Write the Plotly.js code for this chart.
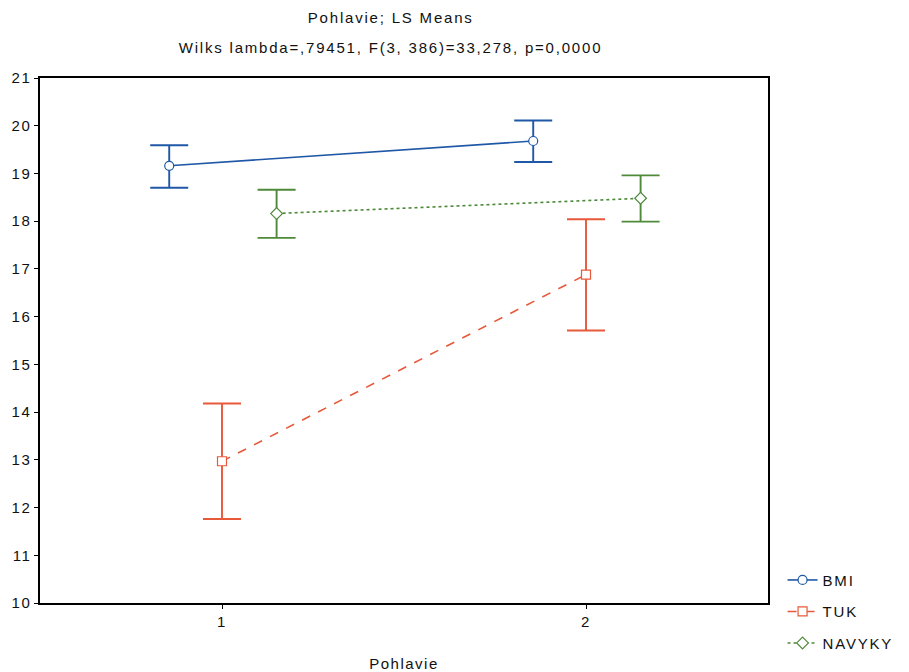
<!DOCTYPE html>
<html><head><meta charset="utf-8">
<script src="https://cdn.plot.ly/plotly-3.0.1.min.js"></script>
<style>body{margin:0;background:#fff}#chart{width:909px;height:672px}
#chart svg text{letter-spacing:1.5px}
#chart svg .annotation-text{letter-spacing:1.8px}
#chart svg .legendtext{letter-spacing:1.8px}
#chart svg .legend .scrollbox, #chart svg .legend{clip-path:none !important}</style>
</head><body><div id="chart"></div>
<script>
const categories = [1, 2];
const seriesNames = ["BMI", "TUK", "NAVYKY"];
const bmiMean = [19.16, 19.68];
const bmiUpper = [19.59, 20.11];
const bmiLower = [18.70, 19.24];
const tukMean = [12.97, 16.88];
const tukUpper = [14.18, 18.04];
const tukLower = [11.76, 15.71];
const navykyMean = [18.16, 18.48];
const navykyUpper = [18.66, 18.96];
const navykyLower = [17.65, 17.99];
const yTicks = [10,11,12,13,14,15,16,17,18,19,20,21];
const titleLine1 = "Pohlavie; LS Means";
const titleLine2 = "Wilks lambda=,79451, F(3, 386)=33,278, p=0,0000";

const styles = [
  {color:"#1f58a6", dash:"solid", symbol:"circle", off:-0.145},
  {color:"#e8583a", dash:"dash", symbol:"square", off:0},
  {color:"#4e8a3a", dash:"dot", symbol:"diamond", off:0.15}
];
const means = [bmiMean, tukMean, navykyMean];
const ups = [bmiUpper, tukUpper, navykyUpper];
const los = [bmiLower, tukLower, navykyLower];

const traces = seriesNames.map((n,i)=>({
  type:"scatter", mode:"lines+markers", name:n, legendgroup:n,
  x: categories.map(c=>c+styles[i].off),
  y: means[i],
  line:{color:styles[i].color, width:1.6, dash:styles[i].dash},
  marker:{symbol:styles[i].symbol, size:9, color:"#fff", line:{width:1.2,color:styles[i].color}},
  error_y:{type:"data", symmetric:false,
    array: ups[i].map((u,k)=>u-means[i][k]),
    arrayminus: means[i].map((m,k)=>m-los[i][k]),
    color:styles[i].color, thickness:1.9, width:19}
}));

const fam = "Liberation Sans, Arial, sans-serif";
const font = {family:fam, size:15, color:"#111"};
Plotly.newPlot("chart", traces, {
  width:909, height:672,
  margin:{l:40, r:141, t:78, b:69},
  paper_bgcolor:"#fff", plot_bgcolor:"#fff",
  font: font,
  annotations:[
    {text:titleLine1, xref:"paper", yref:"paper", x:0.482, y:1 + (78-18)/525, xanchor:"center", yanchor:"middle", showarrow:false, font:font},
    {text:titleLine2, xref:"paper", yref:"paper", x:0.482, y:1 + (78-47)/525, xanchor:"center", yanchor:"middle", showarrow:false, font:font}
  ],
  xaxis:{range:[0.5,2.5], tickvals:categories, ticktext:categories.map(String),
    showgrid:false, zeroline:false, showline:true, mirror:true, linecolor:"#000", linewidth:1.5,
    ticks:"outside", ticklen:4, tickcolor:"#000", tickfont:font,
    title:{text:"Pohlavie", font:font, standoff:30}},
  yaxis:{range:[10,21], tickvals:yTicks, showgrid:false, zeroline:false, showline:true, mirror:true,
    linecolor:"#000", linewidth:1.5, ticks:"outside", ticklen:4, tickcolor:"#000", tickfont:font},
  legend:{x:1.02, xanchor:"left", y:-0.108, yanchor:"bottom", font:{family:fam, size:15, color:"#111"},
    tracegroupgap:9, itemwidth:30, bgcolor:"rgba(0,0,0,0)"},
  showlegend:true
}, {displayModeBar:false});
</script></body></html>
